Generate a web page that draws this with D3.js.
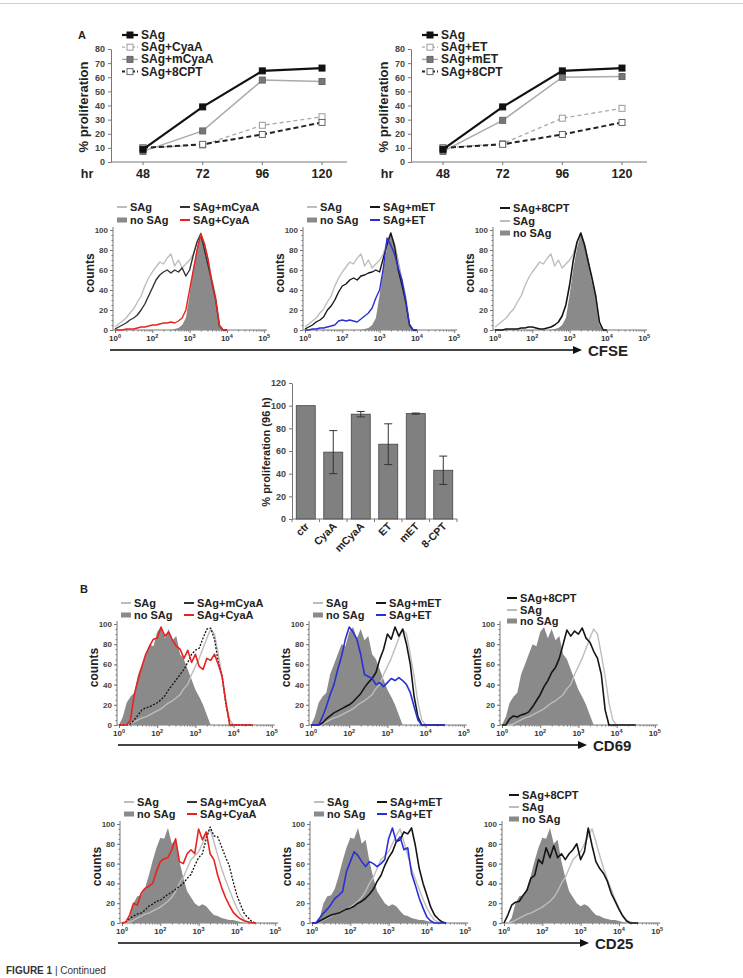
<!DOCTYPE html>
<html><head><meta charset="utf-8">
<script src="https://cdn.jsdelivr.net/npm/d3@7"></script>
<style>body{margin:0;background:#fff}svg text{font-family:"Liberation Sans",Arial,sans-serif}</style>
</head><body><svg id="c" width="743" height="978"></svg>
<script>
// ---------- DATA ----------
const hours = [48, 72, 96, 120];
const propSAg = [9, 39, 64.5, 66.5];
const propCyaA = [10, 12, 26, 32];
const propMCyaA = [7.5, 22, 58, 57];
const prop8CPT = [10, 12.5, 19.5, 28];
const propET = [10, 13, 31, 38];
const propMET = [7.5, 29.5, 60, 60.5];
const propTicks = [0, 10, 20, 30, 40, 50, 60, 70, 80];

const barCats = ["ctr", "CyaA", "mCyaA", "ET", "mET", "8-CPT"];
const barVals = [100, 59, 92.5, 66, 93, 43];
const barErr = [0, 19, 2.4, 18, 0.5, 12.5];
const barTicks = [0, 20, 40, 60, 80, 100, 120];

const countTicks = [0, 20, 40, 60, 80, 100];
const decadeTicks = [1, 2, 3, 4, 5];
const decadeExp = ["0", "2", "3", "4", "5"];

// decade positions (log10 units) of histogram bins
const row1Bins = [1.0,1.1,1.2,1.3,1.4,1.5,1.6,1.7,1.8,1.9,2.0,2.1,2.2,2.3,2.4,2.5,2.6,2.7,2.8,2.9,3.0,3.1,3.2,3.3,3.4,3.5,3.6,3.7,3.8,3.9,4.0];
const row23Bins = [1.0,1.1,1.2,1.3,1.4,1.5,1.6,1.7,1.8,1.9,2.0,2.1,2.2,2.3,2.4,2.5,2.6,2.7,2.8,2.9,3.0,3.1,3.2,3.3,3.4,3.5,3.6,3.7,3.8,3.9,4.0,4.1,4.2,4.3,4.4,4.5];

// CFSE
const cfseNoSAg = [0,0,0,0,0,0,0,0,0,0,0,0,0,0,0,0,1,2,5,12,35,62,82,96,88,72,52,32,6,0,0];
const cfseSAg = [3,6,9,12,17,21,28,34,44,52,58,63,68,66,72,76,64,70,62,66,70,76,88,97,86,68,50,34,6,0,0];
const cfseMCyaA = [1,3,5,7,10,12,15,20,26,34,42,50,55,58,60,57,60,58,62,54,60,75,88,96,80,64,48,30,4,0,0];
const cfseCyaA = [0,0,0,1,1,1,2,3,3,4,5,5,6,7,7,8,7,9,12,20,40,60,80,96,86,70,46,30,4,0,0];
const cfseMET = [1,3,5,8,10,13,20,24,30,38,44,46,50,52,50,54,55,57,58,60,58,72,85,97,84,60,45,28,5,0,0];
const cfseET = [0,0,1,1,2,2,3,4,5,9,10,9,10,9,8,11,14,17,22,32,40,62,92,85,76,62,50,30,6,0,0];
const cfse8CPT = [0,0,0,1,1,1,1,2,2,3,3,2,1,1,2,3,5,8,14,25,45,70,88,97,85,68,52,34,8,0,0];

// CD69
const cd69NoSAg = [0,8,22,28,32,50,60,70,80,78,92,97,86,95,84,88,70,65,55,45,35,28,20,10,0,0,0,0,0,0,0,0,0,0,0,0];
const cd69SAg = [0,0,0,1,3,5,7,8,10,12,14,16,19,22,24,27,30,36,40,50,58,66,76,86,95,90,70,48,22,5,0,0,0,0,0,0];
const cd69MCyaA = [0,0,0,1,5,10,15,17,18,20,22,25,29,35,40,45,50,55,62,70,74,76,86,95,96,85,62,48,20,0,0,0,0,0,0,0];
const cd69CyaA = [0,0,0,5,30,45,58,70,78,85,86,97,88,92,84,78,75,66,74,62,70,58,55,66,64,70,60,48,22,0,0,0,0,0,0,0];
const cd69ET = [0,0,0,8,18,30,40,55,68,85,97,92,85,70,50,48,46,40,42,38,42,46,44,47,44,40,32,18,5,0,0,0,0,0,0,0];
const cd69MET = [0,0,0,2,6,9,12,14,16,18,20,23,27,31,37,42,46,52,65,75,90,85,97,88,95,80,60,28,8,0,0,0,0,0,0,0];
const cd698CPT = [0,0,6,9,8,10,11,13,18,24,30,38,44,52,57,66,80,94,88,93,90,96,86,82,73,66,50,15,0,0,0,0,0,0,0,0];

// CD25
const cd25NoSAg = [0,0,5,20,27,28,35,48,63,76,86,85,96,80,84,62,46,32,26,20,17,19,17,12,8,7,5,4,3,3,2,1,0,0,0,0];
const cd25SAg = [0,0,1,3,5,7,9,10,12,14,16,19,22,26,32,40,46,55,64,68,72,80,88,95,82,68,55,44,34,24,15,8,3,1,0,0];
const cd25MCyaA = [0,1,5,7,9,10,13,17,19,22,23,26,29,31,34,37,40,45,49,58,66,70,85,97,88,87,77,67,58,42,28,18,9,5,1,0];
const cd25CyaA = [0,1,8,20,18,30,35,37,40,52,62,65,66,74,85,62,60,70,74,70,95,84,92,70,64,48,36,26,18,11,7,4,2,1,0,0];
const cd25ET = [0,0,5,10,14,19,25,28,32,52,62,72,68,62,57,62,60,57,60,64,85,96,82,87,74,76,50,38,25,15,6,2,0,0,0,0];
const cd25MET = [0,0,2,4,6,8,9,10,12,14,15,17,20,22,25,29,34,42,48,58,66,72,82,84,92,90,96,78,55,40,28,16,8,4,1,0];
const cd258CPT = [0,8,18,21,22,28,33,45,48,64,60,76,66,78,66,70,64,70,74,80,64,72,96,78,62,55,50,42,30,22,14,7,2,0,0,0];

// ---------- DRAWING ----------
const svg = d3.select("#c");
svg.append("rect").attr("width", 743).attr("height", 978).attr("fill", "#fff");
svg.append("line").attr("x1", 0).attr("x2", 743).attr("y1", 3.5).attr("y2", 3.5).attr("stroke", "#d0d0d0");

function txt(g, x, y, s, o = {}) {
  return g.append("text").attr("x", x).attr("y", y).text(s)
    .attr("font-size", o.size || 11).attr("font-weight", o.weight || "bold")
    .attr("fill", o.fill || "#222").attr("text-anchor", o.anchor || "start")
    .attr("dominant-baseline", o.base || "central");
}
function styleAxis(a, fs) {
  a.select(".domain").attr("stroke", "#777");
  a.selectAll(".tick line").attr("stroke", "#777");
  a.selectAll(".tick text").attr("font-size", fs).attr("font-weight", "bold").attr("fill", "#444")
    .attr("font-family", '"Liberation Sans", Arial, sans-serif');
}

// ----- line charts -----
function lineChart(ax, series) {
  const g = svg.append("g");
  const x = d3.scalePoint().domain(hours).range([ax + 32, ax + 211]);
  const y = d3.scaleLinear().domain([0, 80]).range([162, 49]);
  const ya = g.append("g").attr("transform", `translate(${ax},0)`)
    .call(d3.axisLeft(y).tickValues(propTicks).tickSize(3).tickSizeOuter(0).tickPadding(3));
  styleAxis(ya, 9);
  g.append("line").attr("x1", ax).attr("x2", ax + 236).attr("y1", y(0)).attr("y2", y(0)).attr("stroke", "#777");
  g.selectAll("line.xt").data(hours).join("line").attr("class", "xt")
    .attr("x1", d => x(d)).attr("x2", d => x(d)).attr("y1", y(0)).attr("y2", y(0) + 3).attr("stroke", "#777");
  g.selectAll("text.xl").data(hours).join("text").attr("class", "xl")
    .attr("x", d => x(d)).attr("y", 174).text(d => d)
    .attr("font-size", 12.5).attr("font-weight", "bold").attr("fill", "#222")
    .attr("text-anchor", "middle").attr("dominant-baseline", "central");
  txt(g, ax - 24, 174, "hr", { size: 12.5, anchor: "middle" });
  txt(g, 0, 0, "% proliferation", { size: 13, anchor: "middle" })
    .attr("transform", `translate(${ax - 28},107) rotate(-90)`);
  const line = d3.line().x(d => x(d[0])).y(d => y(d[1]));
  const order = [2, 1, 3, 0];
  order.forEach(i => {
    const s = series[i];
    const pts = hours.map((h, k) => [h, s.vals[k]]);
    g.append("path").attr("d", line(pts)).attr("fill", "none").attr("stroke", s.stroke)
      .attr("stroke-width", s.w).attr("stroke-dasharray", s.dash || null);
    g.selectAll(null).data(pts).join("rect")
      .attr("x", d => x(d[0]) - 3).attr("y", d => y(d[1]) - 3).attr("width", 6).attr("height", 6)
      .attr("fill", s.mfill).attr("stroke", s.mstroke).attr("stroke-width", 1);
  });
  series.forEach((s, i) => {
    const ly = 35 + i * 12.2;
    g.append("line").attr("x1", ax + 11).attr("x2", ax + 27).attr("y1", ly).attr("y2", ly)
      .attr("stroke", s.stroke).attr("stroke-width", s.w).attr("stroke-dasharray", s.dash ? "3,2" : null);
    g.append("rect").attr("x", ax + 16).attr("y", ly - 3).attr("width", 6).attr("height", 6)
      .attr("fill", s.mfill).attr("stroke", s.mstroke);
    txt(g, ax + 30, ly, s.name, { size: 12 });
  });
}
const stSAg = { stroke: "#111", w: 2.2, mfill: "#111", mstroke: "#111" };
const stTox = { stroke: "#aaa", w: 1.3, dash: "4,3", mfill: "#fff", mstroke: "#9a9a9a" };
const stMut = { stroke: "#aaa", w: 1.5, mfill: "#777", mstroke: "#666" };
const stCPT = { stroke: "#222", w: 2, dash: "5,3", mfill: "#fff", mstroke: "#666" };
lineChart(111, [
  Object.assign({ name: "SAg", vals: propSAg }, stSAg),
  Object.assign({ name: "SAg+CyaA", vals: propCyaA }, stTox),
  Object.assign({ name: "SAg+mCyaA", vals: propMCyaA }, stMut),
  Object.assign({ name: "SAg+8CPT", vals: prop8CPT }, stCPT)
]);
lineChart(411, [
  Object.assign({ name: "SAg", vals: propSAg }, stSAg),
  Object.assign({ name: "SAg+ET", vals: propET }, stTox),
  Object.assign({ name: "SAg+mET", vals: propMET }, stMut),
  Object.assign({ name: "SAg+8CPT", vals: prop8CPT }, stCPT)
]);
txt(svg, 78, 35, "A", { size: 11 });
txt(svg, 80, 589, "B", { size: 11 });

// ----- histograms -----
const cSAg = "#bdbdbd", cFill = "#8a8a8a", cRed = "#e8231f", cBlue = "#2b2fd6", cBlk = "#151515";
function hist(p) {
  const g = svg.append("g");
  const x = d3.scaleLinear().domain([1, 5]).range([p.x0 + 2, p.x0 + 2 + 4 * p.dec]);
  const y = d3.scaleLinear().domain([0, 100]).range([p.yBot, p.yTop]);
  const minorY = d3.range(0, 101, 5);
  g.append("g").attr("transform", `translate(${p.x0},0)`)
    .call(d3.axisLeft(y).tickValues(minorY).tickSize(1.5).tickFormat("").tickSizeOuter(0))
    .call(a => { a.select(".domain").remove(); a.selectAll("line").attr("stroke", "#777"); });
  const ya = g.append("g").attr("transform", `translate(${p.x0},0)`)
    .call(d3.axisLeft(y).tickValues(countTicks).tickSize(3).tickSizeOuter(0).tickPadding(2));
  styleAxis(ya, 8);
  ya.select(".domain").remove();
  g.append("line").attr("x1", p.x0).attr("x2", p.x0).attr("y1", p.yBot).attr("y2", p.yTop - 3).attr("stroke", "#777");
  const minorX = [];
  [1, 2, 3, 4].forEach(n => [2, 3, 4, 5, 6, 7, 8, 9].forEach(k => minorX.push(n + Math.log10(k))));
  g.append("g").attr("transform", `translate(0,${p.yBot})`)
    .call(d3.axisBottom(x).tickValues(minorX).tickSize(1.5).tickFormat("").tickSizeOuter(0))
    .call(a => { a.select(".domain").remove(); a.selectAll("line").attr("stroke", "#777"); });
  g.append("g").attr("transform", `translate(0,${p.yBot})`)
    .call(d3.axisBottom(x).tickValues(decadeTicks).tickSize(3).tickFormat("").tickSizeOuter(0))
    .call(a => { a.select(".domain").remove(); a.selectAll("line").attr("stroke", "#777"); });
  g.append("line").attr("x1", p.x0).attr("x2", x(5) + 3).attr("y1", p.yBot).attr("y2", p.yBot).attr("stroke", "#777");
  decadeTicks.forEach((d, i) => {
    const t = g.append("text").attr("x", x(d)).attr("y", p.yBot + 11).attr("text-anchor", "middle")
      .attr("font-size", 8).attr("font-weight", "bold").attr("fill", "#333");
    t.append("tspan").text("10");
    t.append("tspan").text(decadeExp[i]).attr("font-size", 5.5).attr("dy", -3.5);
  });
  txt(g, 0, 0, "counts", { size: 12, anchor: "middle" })
    .attr("transform", `translate(${p.x0 - 23},${(p.yTop + p.yBot) / 2 - 7}) rotate(-90)`);
  const pts = vals => p.bins.map((b, i) => [b, vals[i]]);
  const area = d3.area().x(d => x(d[0])).y0(y(0)).y1(d => y(d[1]));
  const line = d3.line().x(d => x(d[0])).y(d => y(d[1]));
  g.append("path").attr("d", area(pts(p.fill))).attr("fill", cFill);
  p.lines.forEach(l => {
    g.append("path").attr("d", line(pts(l.vals))).attr("fill", "none").attr("stroke", l.color)
      .attr("stroke-width", l.w || 1.4).attr("stroke-dasharray", l.dash || null).attr("stroke-linejoin", "round");
  });
  p.legend.forEach(it => {
    const lx = p.x0 + it.lx, ly = it.ly;
    if (it.block) {
      g.append("rect").attr("x", lx).attr("y", ly - 2.5).attr("width", 10).attr("height", 5).attr("fill", cFill);
    } else {
      g.append("line").attr("x1", lx).attr("x2", lx + 10).attr("y1", ly).attr("y2", ly)
        .attr("stroke", it.color).attr("stroke-width", 2);
    }
    txt(g, lx + 13, ly, it.name, { size: 11 });
  });
}
function leg2(r1, r2, names, colors) {
  return [
    { name: "SAg", color: cSAg, lx: 4, ly: r1 },
    { name: "no SAg", block: true, lx: 4, ly: r2 },
    { name: names[0], color: colors[0], lx: 67, ly: r1 },
    { name: names[1], color: colors[1], lx: 67, ly: r2 }
  ];
}
function leg3(r1, r2, r3) {
  return [
    { name: "SAg+8CPT", color: cBlk, lx: 7, ly: r1 },
    { name: "SAg", color: cSAg, lx: 7, ly: r2 },
    { name: "no SAg", block: true, lx: 7, ly: r3 }
  ];
}
const R1 = { yTop: 230, yBot: 330, dec: 37.3, bins: row1Bins, fill: cfseNoSAg };
hist(Object.assign({}, R1, { x0: 113, lines: [{ vals: cfseSAg, color: cSAg }, { vals: cfseMCyaA, color: "#333" }, { vals: cfseCyaA, color: cRed }],
  legend: leg2(207, 220, ["SAg+mCyaA", "SAg+CyaA"], ["#333", cRed]) }));
hist(Object.assign({}, R1, { x0: 303, lines: [{ vals: cfseSAg, color: cSAg }, { vals: cfseMET, color: cBlk }, { vals: cfseET, color: cBlue }],
  legend: leg2(207, 220, ["SAg+mET", "SAg+ET"], [cBlk, cBlue]) }));
hist(Object.assign({}, R1, { x0: 493, lines: [{ vals: cfseSAg, color: cSAg }, { vals: cfse8CPT, color: cBlk, w: 1.6 }],
  legend: leg3(208, 221, 233) }));
const R2 = { yTop: 624, yBot: 725, dec: 38.2, bins: row23Bins, fill: cd69NoSAg };
hist(Object.assign({}, R2, { x0: 117, lines: [{ vals: cd69SAg, color: cSAg }, { vals: cd69MCyaA, color: cBlk, dash: "2,1.5", w: 1.3 }, { vals: cd69CyaA, color: cRed, w: 1.6 }],
  legend: leg2(603, 615, ["SAg+mCyaA", "SAg+CyaA"], ["#333", cRed]) }));
hist(Object.assign({}, R2, { x0: 309, lines: [{ vals: cd69SAg, color: cSAg }, { vals: cd69MET, color: cBlk, w: 1.6 }, { vals: cd69ET, color: cBlue, w: 1.6 }],
  legend: leg2(603, 615, ["SAg+mET", "SAg+ET"], [cBlk, cBlue]) }));
hist(Object.assign({}, R2, { x0: 500, lines: [{ vals: cd69SAg, color: cSAg }, { vals: cd698CPT, color: cBlk, w: 1.6 }],
  legend: leg3(598, 610, 621) }));
const R3 = { yTop: 824, yBot: 923, dec: 38.3, bins: row23Bins, fill: cd25NoSAg };
hist(Object.assign({}, R3, { x0: 120, lines: [{ vals: cd25SAg, color: cSAg }, { vals: cd25MCyaA, color: cBlk, dash: "2,1.5", w: 1.3 }, { vals: cd25CyaA, color: cRed, w: 1.6 }],
  legend: leg2(802, 814, ["SAg+mCyaA", "SAg+CyaA"], ["#333", cRed]) }));
hist(Object.assign({}, R3, { x0: 310, lines: [{ vals: cd25SAg, color: cSAg }, { vals: cd25MET, color: cBlk, w: 1.6 }, { vals: cd25ET, color: cBlue, w: 1.6 }],
  legend: leg2(802, 814, ["SAg+mET", "SAg+ET"], [cBlk, cBlue]) }));
hist(Object.assign({}, R3, { x0: 502, lines: [{ vals: cd25SAg, color: cSAg }, { vals: cd258CPT, color: cBlk, w: 1.6 }],
  legend: leg3(795, 807, 819) }));

function arrow(x1, x2, yy, label) {
  svg.append("line").attr("x1", x1).attr("x2", x2 - 6).attr("y1", yy).attr("y2", yy).attr("stroke", "#444").attr("stroke-width", 2);
  svg.append("path").attr("d", `M${x2},${yy} L${x2 - 9},${yy - 4} L${x2 - 9},${yy + 4} Z`).attr("fill", "#111");
  txt(svg, x2 + 6, yy, label, { size: 15 });
}
arrow(110, 582, 350, "CFSE");
arrow(118, 587, 745, "CD69");
arrow(118, 589, 943, "CD25");

{
  const g = svg.append("g");
  const x = d3.scaleBand().domain(barCats).range([292, 457]).paddingInner(0.31).paddingOuter(0.155);
  const y = d3.scaleLinear().domain([0, 120]).range([519, 383]);
  const ya = g.append("g").attr("transform", "translate(292,0)")
    .call(d3.axisLeft(y).tickValues(barTicks).tickSize(3).tickSizeOuter(0).tickPadding(3));
  styleAxis(ya, 9);
  g.append("line").attr("x1", 292).attr("x2", 457).attr("y1", y(0)).attr("y2", y(0)).attr("stroke", "#777");
  g.selectAll("line.bt").data(d3.range(barCats.length + 1)).join("line").attr("class", "bt")
    .attr("x1", i => 292 + i * x.step()).attr("x2", i => 292 + i * x.step())
    .attr("y1", y(0)).attr("y2", y(0) + 3).attr("stroke", "#777");
  g.selectAll("rect.bar").data(barCats).join("rect").attr("class", "bar")
    .attr("x", d => x(d)).attr("width", x.bandwidth())
    .attr("y", (d, i) => y(barVals[i])).attr("height", (d, i) => y(0) - y(barVals[i]))
    .attr("fill", "#808080").attr("stroke", "#444").attr("stroke-width", 0.8);
  barCats.forEach((c, i) => {
    if (!barErr[i]) return;
    const cx = x(c) + x.bandwidth() / 2;
    const top = y(barVals[i] + barErr[i]), bot = y(barVals[i] - barErr[i]);
    g.append("line").attr("x1", cx).attr("x2", cx).attr("y1", top).attr("y2", bot).attr("stroke", "#333");
    [top, bot].forEach(v => g.append("line").attr("x1", cx - 4).attr("x2", cx + 4).attr("y1", v).attr("y2", v).attr("stroke", "#333"));
  });
  barCats.forEach(c => {
    const cx = x(c) + x.bandwidth() / 2 + 4;
    g.append("text").attr("transform", `translate(${cx},527) rotate(-45)`).text(c)
      .attr("font-size", 10.5).attr("font-weight", "bold").attr("fill", "#222").attr("text-anchor", "end");
  });
  txt(g, 0, 0, "% proliferation (96 h)", { size: 11, anchor: "middle" })
    .attr("transform", "translate(266,452) rotate(-90)");
}

const cap = svg.append("text").attr("x", 6).attr("y", 974).attr("font-size", 10).attr("fill", "#333");
cap.append("tspan").text("FIGURE 1").attr("font-weight", "bold");
cap.append("tspan").text(" | Continued");
</script></body></html>
